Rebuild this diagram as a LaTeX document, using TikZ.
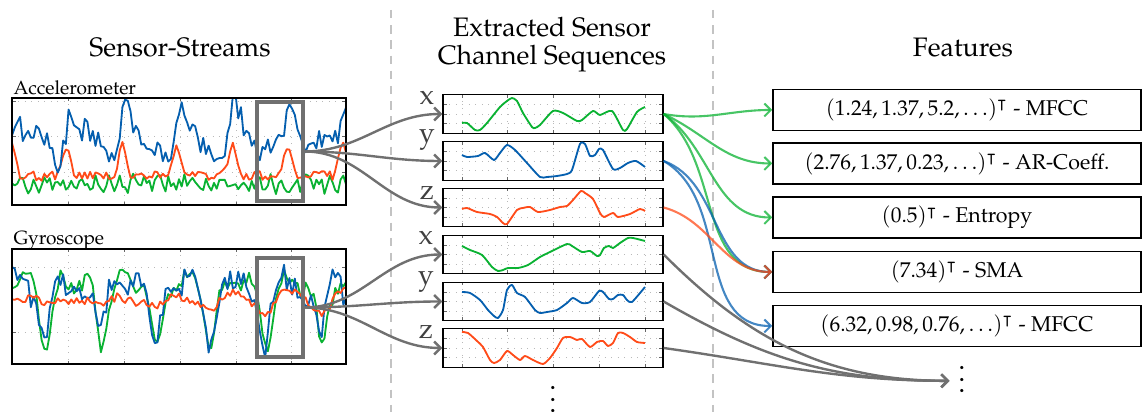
\documentclass[tikz,border=0pt]{standalone}
\usepackage[T1]{fontenc}
\usepackage{mathpazo}
\usepackage{amssymb}
\usetikzlibrary{arrows.meta}

\definecolor{sgreen}{RGB}{10,178,50}
\definecolor{sblue}{RGB}{5,95,175}
\definecolor{sorange}{RGB}{255,75,25}
\definecolor{arrgray}{RGB}{112,112,112}
\definecolor{sepgray}{RGB}{195,195,195}

\tikzset{
  seqbox/.style={draw, line width=0.45pt, minimum width=2.75cm, minimum height=0.48cm, inner sep=0pt},
  bigbox/.style={draw, line width=0.45pt, minimum width=4.175cm, inner sep=0pt},
  hlbox/.style={draw=arrgray, line width=1.1pt, minimum width=0.575cm, minimum height=1.2375cm, inner sep=0pt},
  featbox/.style={draw, line width=0.5pt, minimum width=4.6cm, minimum height=0.515cm, inner sep=0pt, font=\fontsize{7.6}{9}\selectfont},
  gridl/.style={gray!55, dotted, line width=0.3pt},
  tickl/.style={gray!80!black, line width=0.3pt},
  sig/.style={line width=0.65pt, line join=round},
  chlbl/.style={text=black!75, font=\fontsize{10}{11}\selectfont, inner sep=0pt},
  sepline/.style={sepgray, line width=0.7pt, dash pattern=on 3pt off 2.4pt},
  grayarr/.style={->, arrgray, line width=0.85pt},
  featarr/.style={->, line width=0.75pt, draw opacity=0.75},
  >={Straight Barb[length=2.3pt,width=4.6pt]}
}

\begin{document}
\begin{tikzpicture}[x=0.0125cm, y=-0.0125cm]
\useasboundingbox (0,0) rectangle (1143,412);

% column titles
\node[font=\fontsize{9.5}{11}\selectfont] (tstreams) at (180,48) {Sensor-Streams};
\node[font=\fontsize{9.5}{10}\selectfont, align=center] (tseq) at (552,45) {Extracted Sensor\\Channel Sequences};
\node[font=\fontsize{9.5}{11}\selectfont] (tfeat) at (963,48) {Features};

\draw[sepline] (391,10) -- (391,412);
\draw[sepline] (713,10) -- (713,412);

% sensor streams
\node[anchor=base west, inner sep=0pt, font=\fontsize{6.8}{8}\selectfont] (lacc) at (13,95) {Accelerometer};
\node[anchor=base west, inner sep=0pt, font=\fontsize{6.8}{8}\selectfont] (lgyr) at (13,245) {Gyroscope};

\foreach \gx in {68,124,180,236,291} {
  \draw[gridl] (\gx,98) -- (\gx,205);
  \draw[gridl] (\gx,249) -- (\gx,364);
  \draw[tickl] (\gx,98) -- ++(0,3);
  \draw[tickl] (\gx,205) -- ++(0,-3);
  \draw[tickl] (\gx,249) -- ++(0,3);
  \draw[tickl] (\gx,364) -- ++(0,-3);
}
\foreach \gy in {101,136.5,172,267,332} {
  \draw[gridl] (12,\gy) -- (346,\gy);
  \draw[tickl] (12,\gy) -- ++(4,0);
  \draw[tickl] (346,\gy) -- ++(-4,0);
}

\pgfmathsetseed{11}
\begin{scope}
\clip (12,98) rectangle (346,205);
\draw[sig, sgreen] plot[domain=12:346, samples=125] (\x,{184 + 7*rand + 4*sin(29*\x)});
\draw[sig, sorange] plot[domain=12:346, samples=125] (\x,{176 + 5*rand - 32*pow(abs(sin(3.27*(\x-39.5))),24)});
\draw[sig, sblue] plot[domain=12:346, samples=125] (\x,{141 + 12*rand + 10*sin(7.3*\x) - 32*pow(abs(sin(3.27*(\x-42))),10) + 18*pow(abs(sin(3.27*(\x-33))),16)});
\end{scope}
\begin{scope}
\clip (12,249) rectangle (346,364);
\draw[sig, sgreen] plot[domain=12:346, samples=125] (\x,{283 + 8*rand + 8*sin(11*\x) + 62*pow(abs(sin(3.27*(\x-19))),10)});
\draw[sig, sblue] plot[domain=12:346, samples=125] (\x,{285 + 13*rand + 55*pow(abs(sin(3.27*(\x-17))),12) - 10*sin(8*\x)});
\draw[sig, sorange] plot[domain=12:346, samples=125] (\x,{296 + 4*rand + 6*sin(6*\x) + 14*pow(abs(sin(3.27*(\x-20))),4)});
\end{scope}

\node[bigbox, minimum height=1.3375cm] (acc) at (179,151.5) {};
\node[bigbox, minimum height=1.4375cm] (gyr) at (179,306.5) {};
\node[hlbox] (acchl) at (280,151.5) {};
\node[hlbox] (gyrhl) at (280,307.5) {};

% extracted channel sequences
\foreach \yc in {114,161,207.5,254.5,301.5,348} {
  \foreach \gx in {462,507,553,599,645} {
    \draw[gridl] (\gx,\yc-19) -- (\gx,\yc+19);
    \draw[tickl] (\gx,\yc-19) -- ++(0,3);
    \draw[tickl] (\gx,\yc+19) -- ++(0,-3);
  }
  \foreach \dy in {-9.5,0,9.5} {
    \draw[gridl] (443,\yc+\dy) -- (663,\yc+\dy);
    \draw[tickl] (443,\yc+\dy) -- ++(4,0);
    \draw[tickl] (663,\yc+\dy) -- ++(-4,0);
  }
}

\node[seqbox] (ax) at (553,114) {};
\node[seqbox] (ay) at (553,161) {};
\node[seqbox] (az) at (553,207.5) {};
\node[seqbox] (gx) at (553,254.5) {};
\node[seqbox] (gy) at (553,301.5) {};
\node[seqbox] (gz) at (553,348) {};

\node[chlbl] (lax) at (427,98) {x};
\node[chlbl] (lay) at (427,140) {y};
\node[chlbl] (laz) at (427,193) {z};
\node[chlbl] (lgx) at (426,237.5) {x};
\node[chlbl] (lgy) at (426,282) {y};
\node[chlbl] (lgz) at (426,332.5) {z};

\draw[sig, sgreen] plot[smooth, tension=0.4] coordinates {(462,123) (467,123) (475,130) (480,130) (487,123) (500,107) (507,101) (512,98) (517,101) (523,113) (532,127) (535,128) (540,125) (553,111) (563,113) (577,121) (582,120) (593,111) (600,115) (612,111) (623,130) (627,129) (637,112) (645,107)};
\draw[sig, sblue] plot[smooth, tension=0.4] coordinates {(462,155) (467,157) (478,156) (485,153) (494,160) (500,153) (507,145) (515,150) (527,163) (540,177) (547,177) (557,176) (567,174) (572,170) (580,144) (585,144) (590,156) (595,155) (599,149) (603,150) (613,169) (620,168) (628,163) (636,161) (645,167)};
\draw[sig, sorange] plot[smooth, tension=0.4] coordinates {(462,209) (467,208) (477,212) (490,214) (497,217) (503,223) (507,224) (517,210) (523,208) (530,207) (538,212) (550,210) (560,207) (567,206) (573,200) (581,191) (585,193) (593,199) (600,213) (604,217) (613,213) (618,217) (630,214) (640,209) (645,211)};
\draw[sig, sgreen] plot[smooth, tension=0.4] coordinates {(462,246) (470,250) (482,255) (492,267) (498,271) (503,270) (508,268) (518,268) (528,265) (540,257) (550,252) (567,244) (572,246) (582,252) (590,251) (597,256) (600,255) (604,248) (609,246) (613,248) (620,243) (628,238) (633,238) (645,241)};
\draw[sig, sblue] plot[smooth, tension=0.4] coordinates {(462,292) (470,293) (480,300) (488,310) (494,316) (498,318) (503,310) (507,290) (512,285) (517,293) (525,297) (535,310) (540,313) (547,312) (557,310) (567,303) (573,298) (582,303) (590,302) (599,291) (603,292) (609,299) (613,299) (618,295) (623,295) (627,300) (632,302) (645,287)};
\draw[sig, sorange] plot[smooth, tension=0.4] coordinates {(462,332) (468,333) (477,341) (483,347) (490,360) (494,363) (500,360) (507,351) (513,355) (520,360) (525,356) (533,360) (543,364) (550,358) (557,348) (563,338) (570,337) (577,340) (582,339) (590,347) (597,342) (603,341) (608,346) (613,343) (618,333) (623,333) (630,337) (637,342) (645,343)};

\node[inner sep=0pt] (mdots) at (553,391) {$\vdots$};

% features
\node[featbox] (f1) at (957,110) {$(1.24, 1.37, 5.2, \ldots)^{\intercal}$ - MFCC};
\node[featbox] (f2) at (957,163.5) {$(2.76, 1.37, 0.23, \ldots)^{\intercal}$ - AR-Coeff.};
\node[featbox] (f3) at (957,217.5) {$(0.5)^{\intercal}$ - Entropy};
\node[featbox] (f4) at (957,272) {$(7.34)^{\intercal}$ - SMA};
\node[featbox] (f5) at (957,326) {$(6.32, 0.98, 0.76, \ldots)^{\intercal}$ - MFCC};
\node[inner sep=3pt] (fdots) at (962,371) {$\vdots$};

% stream -> channel
\draw[grayarr] (acchl.east) to[out=0,in=180] (ax.west);
\draw[grayarr] (acchl.east) to[out=0,in=180] (ay.west);
\draw[grayarr] (acchl.east) to[out=0,in=180] (az.west);
\draw[grayarr] (gyrhl.east) to[out=0,in=180] (gx.west);
\draw[grayarr] (gyrhl.east) to[out=0,in=180] (gy.west);
\draw[grayarr] (gyrhl.east) to[out=0,in=180] (gz.west);

% channel -> feature
\draw[featarr, sgreen] (ax.east) to[out=-10,in=180] (f1.west);
\draw[featarr, sgreen] (ax.east) to[out=-25,in=180] (f2.west);
\draw[featarr, sgreen] (ax.east) to[out=-35,in=180] (f3.west);
\draw[featarr, sgreen] (ax.east) to[out=-40,in=180] (f4.west);
\draw[featarr, sblue] (ay.east) to[out=-20,in=180] (f4.west);
\draw[featarr, sblue] (ay.east) to[out=-30,in=180] (f5.west);
\draw[featarr, sorange] (az.east) to[out=-15,in=180] (f4.west);
\draw[grayarr] (gx.east) to[out=-45,in=180] ([yshift=-3.5pt]fdots.west);
\draw[grayarr] (gy.east) to[out=-30,in=180] ([yshift=-3.5pt]fdots.west);
\draw[grayarr] (gz.east) to[out=-8,in=180] ([yshift=-3.5pt]fdots.west);
\end{tikzpicture}
\end{document}
